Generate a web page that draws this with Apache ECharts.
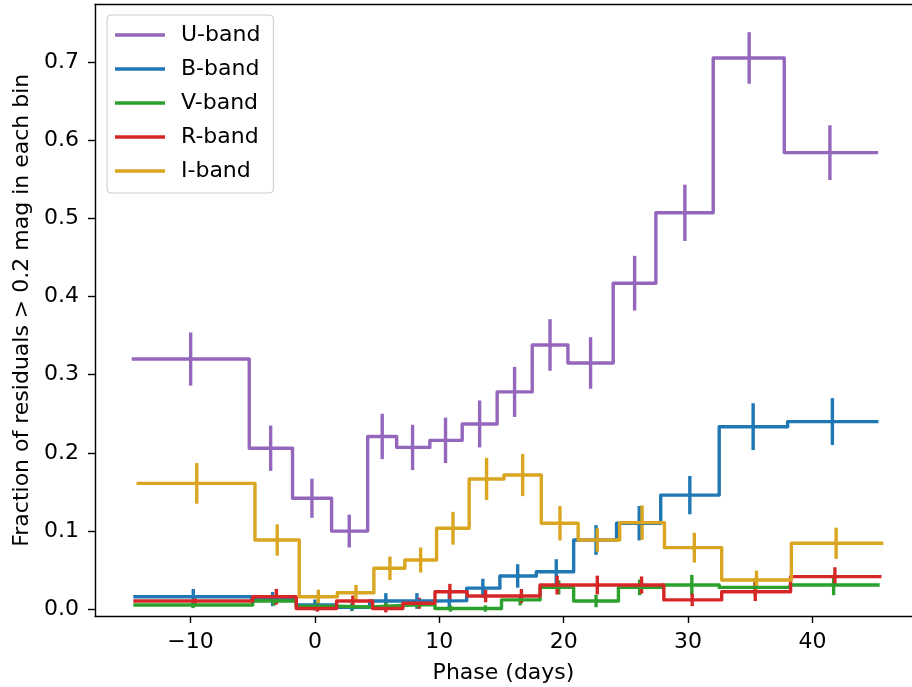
<!DOCTYPE html>
<html>
<head>
<meta charset="utf-8">
<script src="https://cdn.jsdelivr.net/npm/echarts@6/dist/echarts.min.js"></script>
<style>
html,body{margin:0;padding:0;background:#fff;}
#chart{width:912px;height:687px;}
</style>
</head>
<body>
<div id="chart"></div>
<script>
// ---- Data ----
const bandNames = ['U-band', 'B-band', 'V-band', 'R-band', 'I-band'];
const bandColors = ['#9467bd', '#1f77b4', '#2ca02c', '#d62728', '#daa520'];

const edgesU = [-14.73, -5.28, -1.80, 1.34, 4.24, 6.57, 9.24, 11.84, 14.65, 17.47, 20.34, 23.98, 27.41, 32.02, 37.73, 45.28];
const valuesU = [0.320, 0.206, 0.142, 0.100, 0.221, 0.207, 0.216, 0.237, 0.278, 0.338, 0.315, 0.417, 0.507, 0.705, 0.584];
const centersU = [-9.99, -3.56, -0.24, 2.76, 5.41, 7.85, 10.5, 13.24, 16.05, 18.9, 22.16, 25.7, 29.74, 34.91, 41.4];
const errU = [0.034, 0.029, 0.025, 0.021, 0.029, 0.029, 0.029, 0.030, 0.032, 0.033, 0.033, 0.035, 0.036, 0.033, 0.035];

const edgesB = [-14.6, -5.1, -1.5, 1.74, 4.4, 6.9, 9.6, 12.2, 14.87, 17.8, 20.8, 24.25, 27.8, 32.5, 38.0, 45.3];
const valuesB = [0.016, 0.013, 0.0055, 0.0026, 0.0106, 0.0106, 0.011, 0.027, 0.0426, 0.048, 0.0886, 0.110, 0.146, 0.2335, 0.240];
const centersB = [-9.78, -3.4, 0.0, 2.97, 5.7, 8.2, 10.8, 13.5, 16.3, 19.4, 22.6, 26.07, 30.14, 35.23, 41.6];
const errB = [0.010, 0.009, 0.007, 0.005, 0.010, 0.010, 0.010, 0.012, 0.015, 0.016, 0.019, 0.022, 0.0245, 0.030, 0.030];

const edgesV = [-14.6, -5.0, -1.5, 1.7, 4.5, 7.0, 9.65, 12.2, 15.0, 18.1, 20.8, 24.4, 28.0, 32.5, 38.2, 45.4];
const valuesV = [0.0055, 0.0106, 0.004, 0.003, 0.005, 0.006, 0.001, 0.001, 0.012, 0.028, 0.0106, 0.028, 0.031, 0.028, 0.031];
const centersV = [-9.8, -3.3, 0.1, 3.0, 5.7, 8.3, 10.9, 13.7, 16.5, 19.6, 22.6, 26.1, 30.3, 35.4, 41.7];
const errV = [0.004, 0.006, 0.005, 0.004, 0.005, 0.005, 0.004, 0.004, 0.007, 0.009, 0.008, 0.010, 0.013, 0.012, 0.013];

const edgesR = [-14.6, -5.0, -1.5, 1.74, 4.64, 7.07, 9.65, 12.24, 15.1, 18.1, 21.0, 24.4, 28.05, 32.7, 38.24, 45.55];
const valuesR = [0.0106, 0.016, 0.001, 0.0106, 0.001, 0.0077, 0.0225, 0.017, 0.017, 0.031, 0.031, 0.031, 0.012, 0.0225, 0.0417];
const centersR = [-9.65, -3.1, 0.2, 3.05, 5.7, 8.4, 10.85, 13.72, 16.6, 19.47, 22.7, 26.26, 30.33, 35.4, 41.8];
const errR = [0.005, 0.010, 0.004, 0.007, 0.005, 0.007, 0.010, 0.008, 0.009, 0.012, 0.012, 0.011, 0.008, 0.012, 0.012];

const edgesI = [-14.34, -4.82, -1.26, 1.8, 4.74, 7.23, 9.78, 12.4, 15.2, 18.2, 21.16, 24.5, 28.1, 32.7, 38.3, 45.7];
const valuesI = [0.161, 0.0886, 0.016, 0.0212, 0.0524, 0.063, 0.1036, 0.1666, 0.1717, 0.110, 0.0886, 0.1108, 0.0788, 0.0375, 0.0844];
const centersI = [-9.5, -3.03, 0.27, 3.3, 6.03, 8.5, 11.1, 13.8, 16.7, 19.7, 22.7, 26.3, 30.5, 35.5, 41.9];
const errI = [0.026, 0.020, 0.009, 0.010, 0.015, 0.016, 0.021, 0.027, 0.027, 0.022, 0.015, 0.022, 0.019, 0.012, 0.020];

const xTicks = [-10, 0, 10, 20, 30, 40];
const yTicks = [0.0, 0.1, 0.2, 0.3, 0.4, 0.5, 0.6, 0.7];
const xLabel = 'Phase (days)';
const yLabel = 'Fraction of residuals > 0.2 mag in each bin';

// ---- Build series ----
const bands = [
  [edgesU, valuesU, centersU, errU],
  [edgesB, valuesB, centersB, errB],
  [edgesV, valuesV, centersV, errV],
  [edgesR, valuesR, centersR, errR],
  [edgesI, valuesI, centersI, errI]
];
const FONT = 'DejaVu Sans';
const LW = 3.4;
const X_MIN = -17.68, X_MAX = 48.0;
const Y_MIN = -0.0086, Y_MAX = 0.7734;
const series = [];
bands.forEach(function (b, k) {
  const edges = b[0], vals = b[1], cens = b[2], errs = b[3];
  const stepData = vals.map(function (v, i) { return [edges[i], v]; });
  stepData.push([edges[edges.length - 1], vals[vals.length - 1]]);
  const color = bandColors[k];
  series.push({
    name: bandNames[k],
    type: 'line',
    step: 'end',
    data: stepData,
    symbol: 'none',
    showSymbol: false,
    silent: true,
    animation: false,
    color: color,
    lineStyle: { color: color, width: LW, join: 'round', cap: 'butt' }
  });
  series.push({
    type: 'custom',
    silent: true,
    animation: false,
    data: cens.map(function (c, i) { return [c, vals[i], errs[i]]; }),
    renderItem: function (params, api) {
      const x = api.value(0), y = api.value(1), e = api.value(2);
      const p1 = api.coord([x, y - e]);
      const p2 = api.coord([x, y + e]);
      return {
        type: 'line',
        shape: { x1: p1[0], y1: p1[1], x2: p2[0], y2: p2[1] },
        style: { stroke: color, lineWidth: LW }
      };
    }
  });
});

const spine = { color: '#000', width: 1.4 };
const chart = echarts.init(document.getElementById('chart'), null, { renderer: 'canvas' });
chart.setOption({
  animation: false,
  backgroundColor: '#ffffff',
  textStyle: { fontFamily: FONT },
  grid: { left: 95, top: 4.5, right: 0, bottom: 71, show: false, containLabel: false, outerBoundsMode: 'none' },
  legend: {
    data: bandNames,
    orient: 'vertical',
    left: 107, top: 15,
    padding: [9, 13, 11, 8],
    itemGap: 12,
    itemWidth: 50,
    itemHeight: 3.4,
    icon: 'rect',
    backgroundColor: 'rgba(255,255,255,0.8)',
    borderColor: '#cccccc',
    borderWidth: 1,
    borderRadius: 4,
    selectedMode: false,
    textStyle: { fontFamily: FONT, fontSize: 22, color: '#000', padding: [0, 0, 0, 11] }
  },
  xAxis: [{
    type: 'value',
    min: X_MIN, max: X_MAX,
    splitLine: { show: false },
    axisLine: { show: true, onZero: false, lineStyle: spine },
    axisTick: { show: true, customValues: xTicks, length: 7, lineStyle: spine },
    axisLabel: {
      customValues: xTicks, margin: 15, color: '#000', fontFamily: FONT, fontSize: 22,
      formatter: function (v) { return v < 0 ? '\u2212' + Math.abs(v) : String(v); }
    },
    name: xLabel, nameLocation: 'middle', nameGap: 46,
    nameTextStyle: { fontFamily: FONT, fontSize: 22, color: '#000' }
  }, {
    type: 'value', position: 'top',
    min: X_MIN, max: X_MAX,
    splitLine: { show: false },
    axisLine: { show: true, onZero: false, lineStyle: spine },
    axisTick: { show: false },
    axisLabel: { show: false }
  }],
  yAxis: {
    type: 'value',
    min: Y_MIN, max: Y_MAX,
    splitLine: { show: false },
    axisLine: { show: true, onZero: false, lineStyle: spine },
    axisTick: { show: true, customValues: yTicks, length: 7, lineStyle: spine },
    axisLabel: {
      customValues: yTicks, margin: 16, color: '#000', fontFamily: FONT, fontSize: 22,
      formatter: function (v) { return v.toFixed(1); }
    },
    name: yLabel, nameLocation: 'middle', nameGap: 62, nameRotate: 90,
    nameTextStyle: { fontFamily: FONT, fontSize: 22, color: '#000' }
  },
  series: series
});
</script>
</body>
</html>
